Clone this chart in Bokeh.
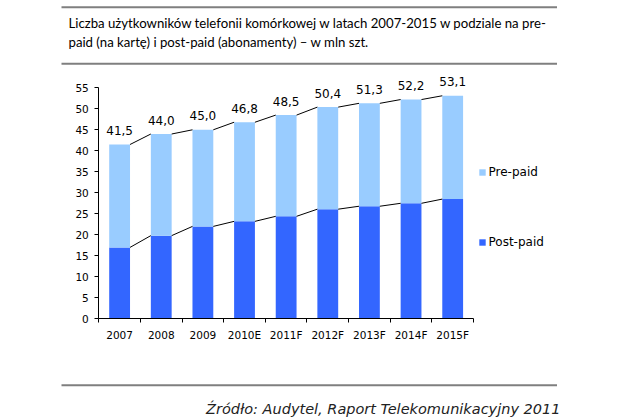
from bokeh.plotting import figure
from bokeh.models import (ColumnDataSource, Range1d, FixedTicker, LabelSet, Label,
                          Legend, LegendItem, Arrow)
from bokeh.embed import file_html
from bokeh.resources import INLINE
from bokeh.core.properties import value

# ---- data ----
years = ["2007", "2008", "2009", "2010E", "2011F", "2012F", "2013F", "2014F", "2015F"]
post_paid = [17.0, 19.8, 22.0, 23.2, 24.4, 26.1, 26.8, 27.5, 28.5]
total = [41.5, 44.0, 45.0, 46.8, 48.5, 50.4, 51.3, 52.2, 53.1]
pre_paid = [round(t - q, 1) for t, q in zip(total, post_paid)]
y_ticks = list(range(0, 60, 5))
y_max = 55

title_1 = "Liczba użytkowników  telefonii  komórkowej  w latach 2007-2015 w podziale na pre-"
title_2 = "paid (na kartę) i post-paid  (abonamenty)  – w mln szt."
source_text = "Źródło: Audytel, Raport Telekomunikacyjny 2011"

# ---- layout (canvas pixels) ----
W, H = 625, 417
AX_L, AX_R = 98.3, 473.0      # x pixel of category axis start / end
AX_B, AX_T = 318.3, 87.3      # y pixel of value 0 / value y_max
BAR_W = 0.5
C_PRE = "#99CCFF"
C_POST = "#3366FF"
FONT = "DejaVu Sans"

n = len(years)
centers = [i + 0.5 for i in range(n)]

# ranges chosen so that the frame spans the whole canvas
kx = n / (AX_R - AX_L)
ky = y_max / (AX_B - AX_T)
x_range = Range1d(-AX_L * kx, (W - AX_L) * kx)
y_range = Range1d(-(H - AX_B) * ky, y_max + AX_T * ky)


def sx(px):
    return px


def sy(py):
    return H - py


p = figure(width=W, height=H, output_backend="svg", toolbar_location=None,
           x_range=x_range, y_range=y_range, min_border=0)
p.outline_line_color = None
p.grid.visible = False
p.background_fill_color = "white"
p.border_fill_color = "white"

src = ColumnDataSource(dict(
    x=centers, post=post_paid, pre=pre_paid, total=total,
    label=[f"{t:.1f}".replace(".", ",") for t in total],
))
r_post = p.vbar(x="x", bottom=0, top="post", width=BAR_W, source=src,
                fill_color=C_POST, line_color=None)
r_pre = p.vbar(x="x", bottom="post", top="total", width=BAR_W, source=src,
               fill_color=C_PRE, line_color=None)

# connector lines between bars
for vals in (post_paid, total):
    seg = ColumnDataSource(dict(
        x0=[c + BAR_W / 2 for c in centers[:-1]],
        x1=[c - BAR_W / 2 for c in centers[1:]],
        y0=vals[:-1], y1=vals[1:],
    ))
    p.segment(x0="x0", y0="y0", x1="x1", y1="y1", source=seg,
              line_color="black", line_width=1)

labels = LabelSet(x="x", y="total", text="label", source=src,
                  text_align="center", text_baseline="middle", y_offset=14,
                  text_font=value(FONT), text_font_size=value("12px"),
                  text_color="black")
p.add_layout(labels)

# axes (fixed inside the canvas-wide frame)
xa = p.xaxis[0]
xa.fixed_location = 0
xa.bounds = (0, n)
xa.ticker = FixedTicker(ticks=centers, minor_ticks=list(range(n + 1)))
xa.major_label_overrides = {c: y for c, y in zip(centers, years)}
xa.major_tick_out = 0
xa.major_tick_in = 0
xa.minor_tick_out = 4
xa.minor_tick_in = 0
xa.minor_tick_line_color = "black"
xa.axis_line_color = "black"
xa.major_label_standoff = 6
xa.major_label_text_font = FONT
xa.major_label_text_font_size = "10.5px"
xa.major_label_text_color = "black"

ya = p.yaxis[0]
ya.fixed_location = 0
ya.bounds = (0, y_max)
ya.ticker = FixedTicker(ticks=y_ticks)
ya.major_tick_out = 4
ya.major_tick_in = 0
ya.minor_tick_line_color = None
ya.axis_line_color = "black"
ya.major_tick_line_color = "black"
ya.major_label_standoff = 6
ya.major_label_text_font = FONT
ya.major_label_text_font_size = "10.5px"
ya.major_label_text_color = "black"

# legend
legend = Legend(items=[LegendItem(label="Pre-paid", renderers=[r_pre]),
                       LegendItem(label="Post-paid", renderers=[r_post])],
                location=(sx(477.5), sy(250.3)),
                glyph_width=8, glyph_height=8, label_height=16, label_width=20,
                spacing=54, padding=0, margin=0, label_standoff=3,
                border_line_color=None, background_fill_alpha=0,
                label_text_font=FONT, label_text_font_size="12px",
                label_text_color="black")
p.add_layout(legend)

# title, rules, source
for txt, base in ((title_1, 22.7), (title_2, 41.7)):
    p.add_layout(Label(x=sx(68), y=sy(base), x_units="screen", y_units="screen",
                       text=txt, text_baseline="alphabetic", text_align="left",
                       text_font="Lato", text_font_size="13.2px",
                       text_color="black"))

for y_line in (6.7, 63.3, 384.7):
    p.add_layout(Arrow(end=None, start=None,
                       x_start=sx(61), y_start=sy(y_line),
                       x_end=sx(556.5), y_end=sy(y_line),
                       start_units="screen", end_units="screen",
                       line_color="#7f7f7f", line_width=2))

p.add_layout(Label(x=sx(560), y=sy(408), x_units="screen", y_units="screen",
                   text=source_text, text_align="right", text_baseline="middle",
                   text_font=FONT, text_font_style="italic",
                   text_font_size="14.5px", text_color="#222222"))

open("out.html", "w").write(file_html(p, INLINE))
